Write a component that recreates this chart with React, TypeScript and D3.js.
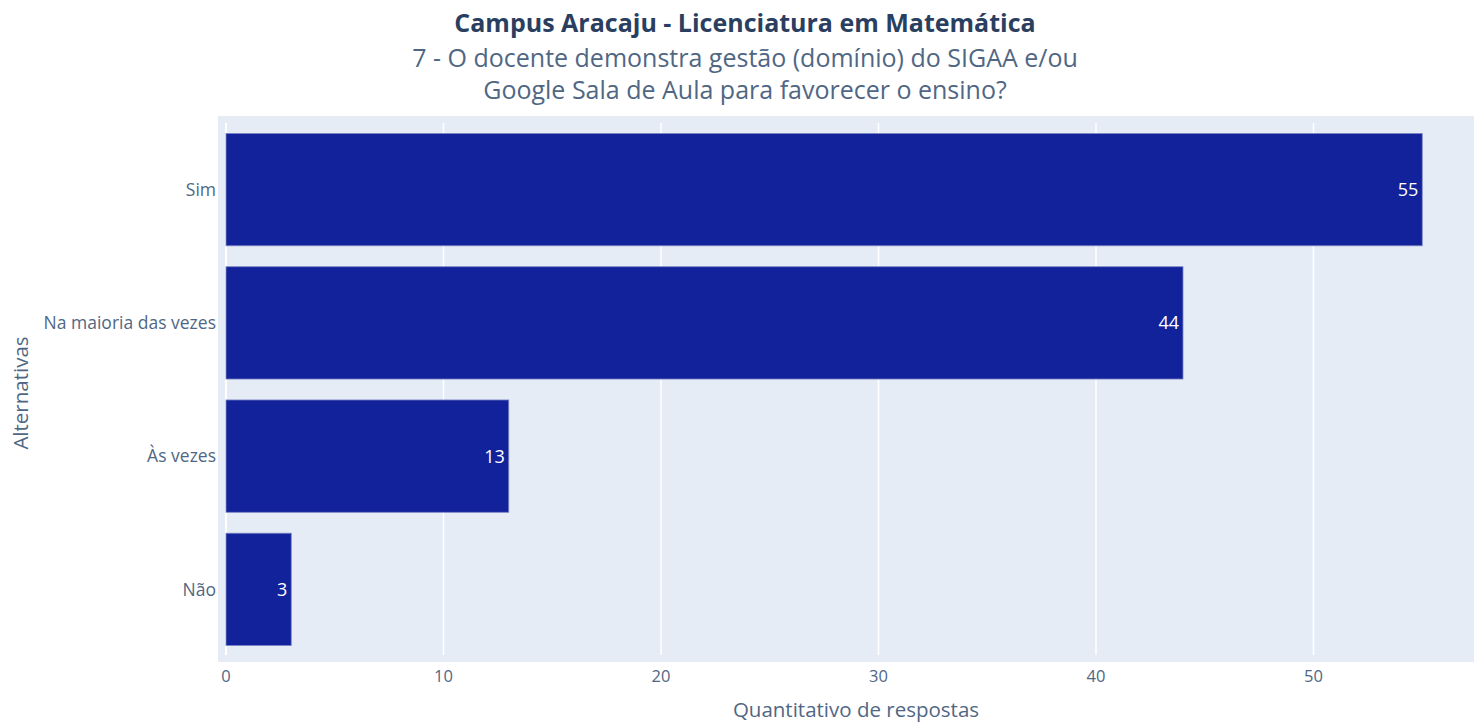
import * as d3 from 'd3';

const categories = ['Sim', 'Na maioria das vezes', 'Às vezes', 'Não'];
const values = [55, 44, 13, 3];
const xTicks = [0, 10, 20, 30, 40, 50];

const titleLines = [
  'Campus Aracaju - Licenciatura em Matemática',
  '7 - O docente demonstra gestão (domínio) do SIGAA e/ou',
  'Google Sala de Aula para favorecer o ensino?',
];

const W = 1474;
const H = 722;
const plot = { left: 218, right: 1474, top: 116, bottom: 662 };
const FONT = '"Open Sans", sans-serif';
const BAR = '#11229a';
const TICK = '#506784';

export default function App() {
  const x = d3.scaleLinear().domain([0, 50]).range([226, 1313.5]);
  const y = d3.scaleBand()
    .domain(categories)
    .range([123, 656])
    .paddingInner(0.157)
    .paddingOuter(0.0785);

  return (
    <svg width={W} height={H} style={{ position: 'absolute', left: 0, top: 0, fontFamily: FONT }}>
      <rect x={plot.left} y={plot.top} width={plot.right - plot.left} height={plot.bottom - plot.top} fill="#e5ecf6" />

      {/* grid */}
      {xTicks.map(t => (
        <line key={t} x1={x(t)} x2={x(t)} y1={123} y2={655} stroke="#ffffff" strokeWidth={t === 0 ? 2 : 1.5} />
      ))}

      {/* bars */}
      {categories.map((c, i) => (
        <g key={c}>
          <rect
            x={x(0)}
            y={y(c)}
            width={x(values[i]) - x(0)}
            height={y.bandwidth()}
            fill={BAR}
            stroke="#7d86c4"
            strokeWidth={0.8}
          />
          <text
            x={x(values[i]) - 4}
            y={(y(c) ?? 0) + y.bandwidth() / 2}
            dy="0.36em"
            textAnchor="end"
            fill="#ffffff"
            fontSize={18}
          >{values[i]}</text>
          <text
            x={216}
            y={(y(c) ?? 0) + y.bandwidth() / 2}
            dy="0.36em"
            textAnchor="end"
            fill={TICK}
            fontSize={17.5}
          >{c}</text>
        </g>
      ))}

      {/* x tick labels */}
      {xTicks.map(t => (
        <text key={t} x={x(t)} y={682} textAnchor="middle" fill={TICK} fontSize={16.5}>{t}</text>
      ))}

      {/* axis titles */}
      <text x={856} y={717} textAnchor="middle" fill={TICK} fontSize={20.5}>Quantitativo de respostas</text>
      <text
        transform="translate(28,393) rotate(-90)"
        textAnchor="middle"
        fill={TICK}
        fontSize={20.5}
      >Alternativas</text>

      {/* title */}
      <text x={745} y={32} textAnchor="middle" fill="#2a3f5f" fontSize={25} fontWeight="bold">{titleLines[0]}</text>
      <text x={745} y={67} textAnchor="middle" fill={TICK} fontSize={25}>{titleLines[1]}</text>
      <text x={745} y={99} textAnchor="middle" fill={TICK} fontSize={25}>{titleLines[2]}</text>
    </svg>
  );
}
